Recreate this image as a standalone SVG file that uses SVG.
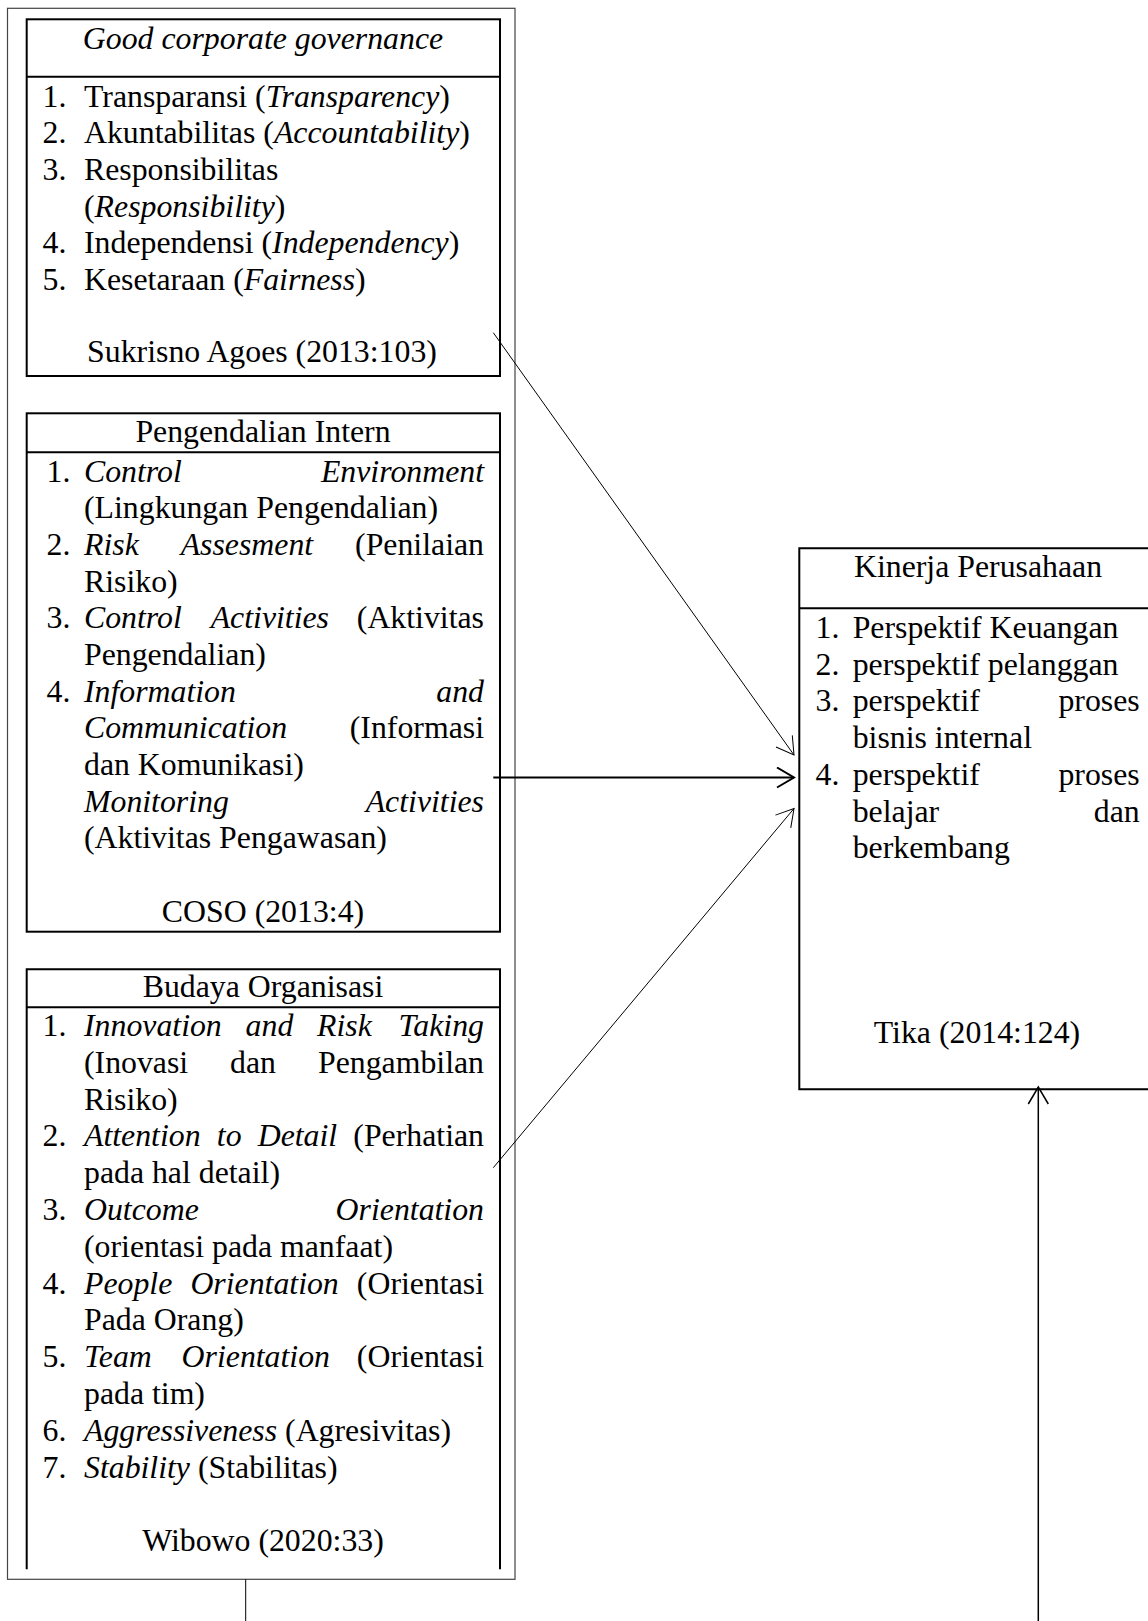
<svg xmlns="http://www.w3.org/2000/svg" width="1148" height="1621" viewBox="0 0 1148 1621">
<defs>
<style>
.t{font-family:"Liberation Serif","Times New Roman",serif;font-size:31.8px;fill:#000}
.i{font-style:italic}
.c{text-anchor:middle}
.e{text-anchor:end}
.box{fill:none;stroke:#000;stroke-width:2}
.frame{fill:none;stroke:#444;stroke-width:1.2}
.thin{fill:none;stroke:#000;stroke-width:1}
.thick{fill:none;stroke:#000;stroke-width:2}
.mid{fill:none;stroke:#000;stroke-width:1.5}
</style>
<marker id="ah1" markerUnits="userSpaceOnUse" markerWidth="20" markerHeight="22" viewBox="0 0 20 22" refX="18" refY="11" orient="auto">
<path d="M1,1 L18,11 L1,21" fill="none" stroke="#000" stroke-width="1"/>
</marker>
<marker id="ah2" markerUnits="userSpaceOnUse" markerWidth="20" markerHeight="22" viewBox="0 0 20 22" refX="18" refY="11" orient="auto">
<path d="M1,1 L18,11 L1,21" fill="none" stroke="#000" stroke-width="2"/>
</marker>
<marker id="ah3" markerUnits="userSpaceOnUse" markerWidth="20" markerHeight="22" viewBox="0 0 20 22" refX="18" refY="11" orient="auto">
<path d="M1,1 L18,11 L1,21" fill="none" stroke="#000" stroke-width="1.5"/>
</marker>
</defs>
<rect width="1148" height="1621" fill="#fff"/>

<g id="frame">
<rect class="frame" x="7.5" y="8.3" width="507.5" height="1571"/>
</g>

<g id="gcg">
<rect class="box" x="26.7" y="19.3" width="473.3" height="356.7"/>
<line class="box" x1="26.7" y1="76.7" x2="500" y2="76.7"/>
<text class="t i c" x="263" y="49.3">Good corporate governance</text>
<text class="t" x="42.5" y="106.7">1.</text>
<text class="t" x="84" y="106.7">Transparansi (<tspan class="i">Transparency</tspan>)</text>
<text class="t" x="42.5" y="143.3">2.</text>
<text class="t" x="84" y="143.3">Akuntabilitas (<tspan class="i">Accountability</tspan>)</text>
<text class="t" x="42.5" y="179.9">3.</text>
<text class="t" x="84" y="179.9">Responsibilitas</text>
<text class="t" x="84" y="216.5">(<tspan class="i">Responsibility</tspan>)</text>
<text class="t" x="42.5" y="253.1">4.</text>
<text class="t" x="84" y="253.1">Independensi (<tspan class="i">Independency</tspan>)</text>
<text class="t" x="42.5" y="289.7">5.</text>
<text class="t" x="84" y="289.7">Kesetaraan (<tspan class="i">Fairness</tspan>)</text>
<text class="t c" x="262" y="361.7">Sukrisno Agoes (2013:103)</text>
</g>

<g id="pi">
<rect class="box" x="26.7" y="413.3" width="473.3" height="518.4"/>
<line class="box" x1="26.7" y1="452.3" x2="500" y2="452.3"/>
<text class="t c" x="263" y="441.7">Pengendalian Intern</text>
<text class="t" x="46.5" y="481.5">1.</text>
<text class="t i" x="84" y="481.5">Control</text>
<text class="t i e" x="484" y="481.5">Environment</text>
<text class="t" x="84" y="518.2">(Lingkungan Pengendalian)</text>
<text class="t" x="46.5" y="554.8">2.</text>
<text class="t i" x="84" y="554.8">Risk</text>
<text class="t i" x="180.7" y="554.8">Assesment</text>
<text class="t e" x="484" y="554.8">(Penilaian</text>
<text class="t" x="84" y="591.5">Risiko)</text>
<text class="t" x="46.5" y="628.2">3.</text>
<text class="t i" x="84" y="628.2">Control</text>
<text class="t i" x="210.7" y="628.2">Activities</text>
<text class="t e" x="484" y="628.2">(Aktivitas</text>
<text class="t" x="84" y="664.8">Pengendalian)</text>
<text class="t" x="46.5" y="701.5">4.</text>
<text class="t i" x="84" y="701.5">Information</text>
<text class="t i e" x="484" y="701.5">and</text>
<text class="t i" x="84" y="738.2">Communication</text>
<text class="t e" x="484" y="738.2">(Informasi</text>
<text class="t" x="84" y="774.8">dan Komunikasi)</text>
<text class="t i" x="84" y="811.5">Monitoring</text>
<text class="t i e" x="484" y="811.5">Activities</text>
<text class="t" x="84" y="848.2">(Aktivitas Pengawasan)</text>
<text class="t c" x="263" y="921.7">COSO (2013:4)</text>
</g>

<g id="bo">
<path class="box" d="M26.7,1569.3 V969.3 H500 V1569.3"/>
<line class="box" x1="26.7" y1="1007.3" x2="500" y2="1007.3"/>
<text class="t c" x="263" y="996.7">Budaya Organisasi</text>
<text class="t" x="42.5" y="1036">1.</text>
<text class="t i" x="84" y="1036">Innovation</text>
<text class="t i" x="245.6" y="1036">and</text>
<text class="t i" x="317.1" y="1036">Risk</text>
<text class="t i e" x="484" y="1036">Taking</text>
<text class="t" x="84" y="1072.8">(Inovasi</text>
<text class="t" x="230.1" y="1072.8">dan</text>
<text class="t e" x="484" y="1072.8">Pengambilan</text>
<text class="t" x="84" y="1109.6">Risiko)</text>
<text class="t" x="42.5" y="1146.4">2.</text>
<text class="t i" x="84" y="1146.4">Attention</text>
<text class="t i" x="216.8" y="1146.4">to</text>
<text class="t i" x="257.7" y="1146.4">Detail</text>
<text class="t e" x="484" y="1146.4">(Perhatian</text>
<text class="t" x="84" y="1183.2">pada hal detail)</text>
<text class="t" x="42.5" y="1220">3.</text>
<text class="t i" x="84" y="1220">Outcome</text>
<text class="t i e" x="484" y="1220">Orientation</text>
<text class="t" x="84" y="1256.8">(orientasi pada manfaat)</text>
<text class="t" x="42.5" y="1293.6">4.</text>
<text class="t i" x="84" y="1293.6">People</text>
<text class="t i" x="190.4" y="1293.6">Orientation</text>
<text class="t e" x="484" y="1293.6">(Orientasi</text>
<text class="t" x="84" y="1330.4">Pada Orang)</text>
<text class="t" x="42.5" y="1367.2">5.</text>
<text class="t i" x="84" y="1367.2">Team</text>
<text class="t i" x="181.6" y="1367.2">Orientation</text>
<text class="t e" x="484" y="1367.2">(Orientasi</text>
<text class="t" x="84" y="1404">pada tim)</text>
<text class="t" x="42.5" y="1440.8">6.</text>
<text class="t" x="84" y="1440.8"><tspan class="i">Aggressiveness</tspan> (Agresivitas)</text>
<text class="t" x="42.5" y="1477.6">7.</text>
<text class="t" x="84" y="1477.6"><tspan class="i">Stability</tspan> (Stabilitas)</text>
<text class="t c" x="263" y="1551">Wibowo (2020:33)</text>
</g>

<g id="kp">
<path class="box" d="M1150,548.3 H799.3 V1089.3 H1150"/>
<line class="box" x1="799.3" y1="608.3" x2="1150" y2="608.3"/>
<text class="t c" x="978" y="576.7">Kinerja Perusahaan</text>
<text class="t" x="815.5" y="638">1.</text>
<text class="t" x="852.7" y="638">Perspektif Keuangan</text>
<text class="t" x="815.5" y="674.7">2.</text>
<text class="t" x="852.7" y="674.7">perspektif pelanggan</text>
<text class="t" x="815.5" y="711.4">3.</text>
<text class="t" x="852.7" y="711.4">perspektif</text>
<text class="t e" x="1139.7" y="711.4">proses</text>
<text class="t" x="852.7" y="748.1">bisnis internal</text>
<text class="t" x="815.5" y="784.8">4.</text>
<text class="t" x="852.7" y="784.8">perspektif</text>
<text class="t e" x="1139.7" y="784.8">proses</text>
<text class="t" x="852.7" y="821.5">belajar</text>
<text class="t e" x="1139.7" y="821.5">dan</text>
<text class="t" x="852.7" y="858.2">berkembang</text>
<text class="t c" x="977" y="1043.3">Tika (2014:124)</text>
</g>

<g id="connectors">
<line class="thin" x1="493.3" y1="332.7" x2="794" y2="755" marker-end="url(#ah1)"/>
<line class="thick" x1="493.3" y1="777.5" x2="794" y2="777.5" marker-end="url(#ah2)"/>
<line class="thin" x1="493.3" y1="1167.7" x2="794" y2="808.5" marker-end="url(#ah1)"/>
<line class="mid" x1="1038.3" y1="1621" x2="1038.3" y2="1087" marker-end="url(#ah3)"/>
<line class="thin" x1="245.7" y1="1579.3" x2="245.7" y2="1621"/>
</g>
</svg>
